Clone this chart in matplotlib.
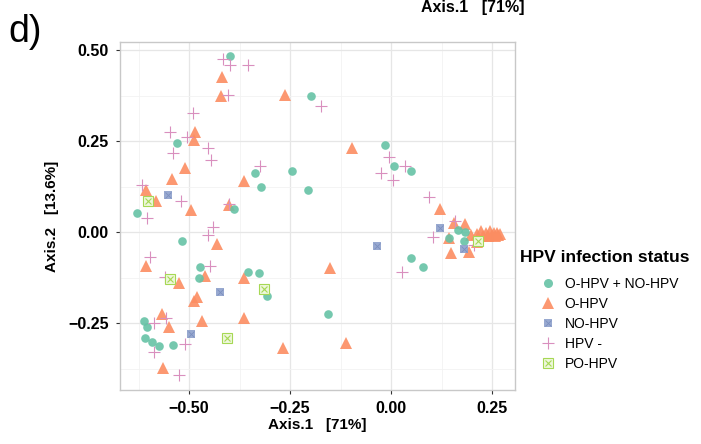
import numpy as np
import matplotlib.pyplot as plt
from matplotlib.lines import Line2D
from matplotlib.ticker import MultipleLocator

plt.rcParams['font.family'] = ['Liberation Sans', 'DejaVu Sans']

# PCoA coordinates (Axis.1, Axis.2)
both_x = [-0.399, -0.530, -0.337, -0.322, -0.390, -0.629, -0.199, -0.015, 0.007, 0.049,
          -0.246, -0.206, -0.328, -0.306, -0.155, -0.517, -0.473, -0.475, -0.353, -0.611,
          -0.605, -0.609, -0.592, -0.574, -0.541, 0.167, 0.183, 0.181, 0.049, 0.080, 0.144]
both_y = [0.484, 0.245, 0.163, 0.124, 0.064, 0.052, 0.374, 0.238, 0.182, 0.168,
          0.168, 0.116, -0.113, -0.175, -0.224, -0.024, -0.097, -0.127, -0.111, -0.245,
          -0.260, -0.292, -0.303, -0.313, -0.310, 0.005, 0.001, -0.025, -0.071, -0.095, -0.017]

ohpv_x = [-0.418, -0.422, -0.262, -0.485, -0.489, -0.510, -0.543, -0.364, -0.607, -0.582,
          -0.496, -0.400, -0.096, 0.121, 0.157, 0.183, 0.197, 0.144, 0.148, 0.193,
          0.212, 0.222, 0.228, 0.235, 0.241, 0.246, 0.250, 0.254, 0.258, 0.262, 0.266, 0.270, 0.214,
          -0.430, -0.607, -0.460, -0.525, -0.364, -0.151, -0.481, -0.488, -0.568, -0.549,
          -0.467, -0.364, -0.565, -0.268, -0.112]
ohpv_y = [0.426, 0.374, 0.377, 0.275, 0.254, 0.176, 0.146, 0.139, 0.115, 0.084,
          0.061, 0.073, 0.231, 0.063, 0.025, 0.022, -0.008, -0.017, -0.058, -0.054,
          -0.005, 0.003, -0.012, -0.002, -0.010, 0.002, -0.008, -0.004, -0.012, -0.003, -0.008, -0.006, -0.027,
          -0.034, -0.093, -0.121, -0.141, -0.127, -0.100, -0.178, -0.190, -0.226, -0.260,
          -0.244, -0.235, -0.374, -0.318, -0.304]

nohpv_x = [-0.551, -0.423, -0.496, -0.035, 0.121, 0.181]
nohpv_y = [0.102, -0.166, -0.280, -0.038, 0.010, -0.048]

neg_x = [-0.415, -0.399, -0.353, -0.403, -0.491, -0.547, -0.506, -0.454, -0.541, -0.446,
         -0.617, -0.521, -0.603, -0.401, -0.440, -0.324, -0.173, -0.005, 0.035, -0.026,
         0.006, 0.094, 0.103, 0.026, -0.452, -0.597, -0.448, -0.559, -0.557, -0.588,
         -0.510, -0.587, -0.524, 0.158, 0.205]
neg_y = [0.474, 0.458, 0.458, 0.377, 0.327, 0.275, 0.261, 0.231, 0.218, 0.197,
         0.130, 0.084, 0.039, 0.077, 0.015, 0.181, 0.346, 0.206, 0.181, 0.163,
         0.143, 0.095, -0.015, -0.110, -0.008, -0.068, -0.093, -0.123, -0.235, -0.251,
         -0.308, -0.329, -0.393, 0.030, -0.036]

pohpv_x = [-0.602, -0.547, -0.407, -0.314, 0.215]
pohpv_y = [0.084, -0.129, -0.290, -0.157, -0.025]

labels = ['O-HPV + NO-HPV', 'O-HPV', 'NO-HPV', 'HPV -', 'PO-HPV']

green = '#66C2A5'
orange = '#FC8D62'
blue = '#8DA0CB'
pink = '#D98FBE'
lime = '#A6D854'

fig = plt.figure(figsize=(7.01, 4.44), dpi=100)
ax = fig.add_axes([0.1712, 0.1216, 0.5635, 0.7838])

ax.plot(ohpv_x, ohpv_y, ls='', marker='^', markersize=8, color=orange, alpha=0.9, mew=0, zorder=3)
ax.plot(both_x, both_y, ls='', marker='o', markersize=6.2, color=green, alpha=0.9, mew=0, zorder=3)
ax.plot(nohpv_x, nohpv_y, ls='', marker='s', markersize=6, color=blue, alpha=0.9, mew=0, zorder=3)
ax.plot(nohpv_x, nohpv_y, ls='', marker='x', markersize=4, color='#7C8FBF', mew=0.6, zorder=3)
ax.plot(neg_x, neg_y, ls='', marker='+', markersize=8, color=pink, mew=0.8, zorder=3)
ax.plot(pohpv_x, pohpv_y, ls='', marker='s', markersize=6.5, markerfacecolor='#EEF7DC',
        markeredgecolor=lime, mew=0.8, zorder=3)
ax.plot(pohpv_x, pohpv_y, ls='', marker='x', markersize=4.5, color=lime, mew=0.8, zorder=3)

ax.set_xlim(-0.671, 0.307)
ax.set_ylim(-0.434, 0.522)
ax.xaxis.set_major_locator(MultipleLocator(0.25))
ax.yaxis.set_major_locator(MultipleLocator(0.25))
ax.xaxis.set_minor_locator(MultipleLocator(0.125))
ax.yaxis.set_minor_locator(MultipleLocator(0.125))
ax.grid(which='major', color='#E6E6E6', linewidth=0.9)
ax.grid(which='minor', color='#F2F2F2', linewidth=0.6)
ax.set_axisbelow(True)
for sp in ax.spines.values():
    sp.set_color('#C8C8C8')
    sp.set_linewidth(1.0)

def fmt(v, pos):
    return ('%.2f' % v).replace('-', '\u2212')

ax.xaxis.set_major_formatter(plt.FuncFormatter(fmt))
ax.yaxis.set_major_formatter(plt.FuncFormatter(fmt))
ax.tick_params(which='minor', length=0)
ax.tick_params(which='major', length=3, width=0.8, color='#333333',
               labelsize=11.5, labelcolor='black', pad=5)
for lab in ax.get_xticklabels() + ax.get_yticklabels():
    lab.set_fontweight('bold')

ax.set_xlabel('Axis.1   [71%]', fontsize=11, fontweight='bold', labelpad=1)
ax.set_ylabel('Axis.2   [13.6%]', fontsize=11, fontweight='bold', labelpad=7)

fig.text(0.012, 0.905, 'd)', fontsize=27, va='baseline')
fig.text(0.674, 0.982, 'Axis.1   [71%]', fontsize=11.5, fontweight='bold', ha='center', va='center')

# legend: title drawn separately so the entries sit indented under it
fig.text(520 / 701, 1 - 258 / 444, 'HPV infection status', fontsize=12.5,
         fontweight='bold', ha='left', va='center')
handles = [
    Line2D([], [], marker='o', ls='', color=green, markersize=6.5, alpha=0.9, mew=0),
    Line2D([], [], marker='^', ls='', color=orange, markersize=8.5, alpha=0.9, mew=0),
    (Line2D([], [], marker='s', ls='', color=blue, markersize=6, alpha=0.9, mew=0),
     Line2D([], [], marker='x', ls='', color='#7C8FBF', markersize=4, mew=0.6)),
    Line2D([], [], marker='+', ls='', color=pink, markersize=9, mew=0.8),
    (Line2D([], [], marker='s', ls='', markerfacecolor='#EEF7DC', markeredgecolor=lime,
            markersize=6.5, mew=0.8),
     Line2D([], [], marker='x', ls='', color=lime, markersize=4.5, mew=0.8)),
]
fig.legend(handles, labels, loc='upper left', bbox_to_anchor=(0.770, 0.377),
           frameon=False, fontsize=10, handlelength=1.2, handletextpad=0.6,
           labelspacing=0.43, borderpad=0, borderaxespad=0)

fig.savefig('out.png', dpi=100)
